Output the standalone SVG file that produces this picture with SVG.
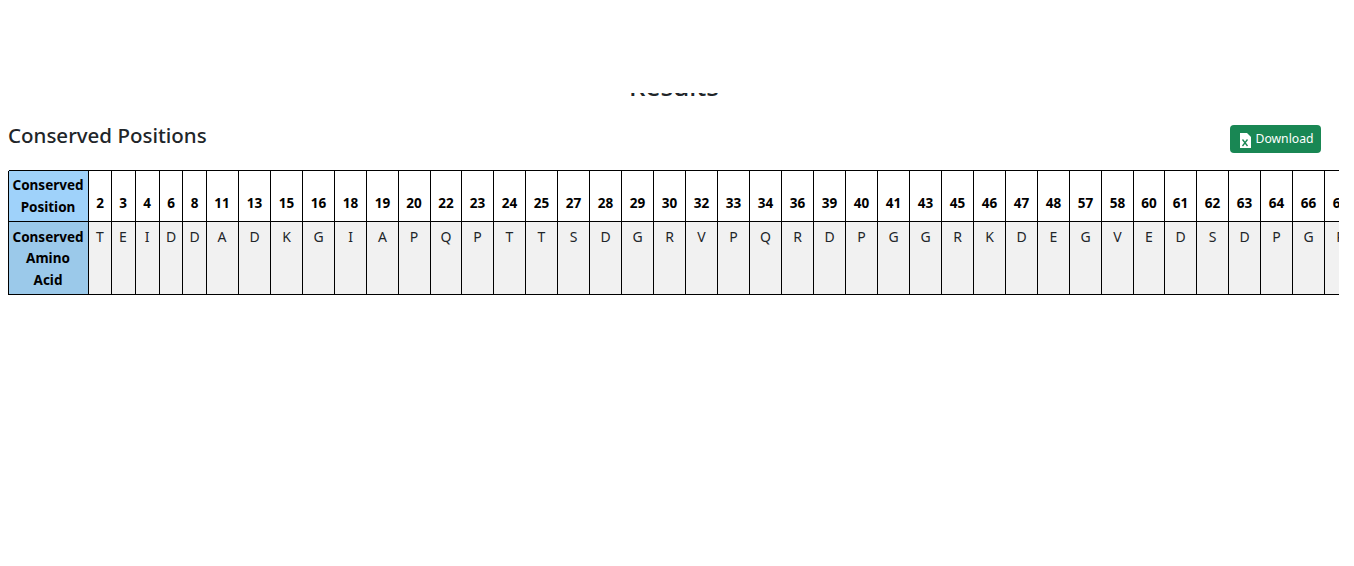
<svg xmlns="http://www.w3.org/2000/svg" width="1354" height="566" viewBox="0 0 1354 566">
<style>
text{font-family:"Noto Sans","Open Sans","Liberation Sans",sans-serif}
.h{font-size:13.5px;font-weight:700;fill:#000;text-anchor:middle}
.c{font-size:14px;fill:#212529;text-anchor:middle}
.l{stroke:#000;stroke-width:1;fill:none;shape-rendering:crispEdges}
</style>
<defs><clipPath id="tc"><rect x="0" y="160" width="1339" height="150"/></clipPath><clipPath id="rc"><rect x="0" y="93" width="1354" height="4"/></clipPath></defs>
<rect width="1354" height="566" fill="#fff"/>
<g clip-path="url(#rc)"><text x="674" y="96" font-size="26" font-weight="500" fill="#212529" text-anchor="middle">Results</text></g>
<text x="8" y="143" font-size="20.500" font-weight="500" fill="#212529">Conserved Positions</text>
<g id="download"><rect x="1230" y="125" width="91" height="28" rx="4" fill="#198754"/>
<path d="M1240 133h7l4 4v11h-11z" fill="#fff"/><path d="M1242.500 139.500l5 6.500M1247.500 139.500l-5 6.500" stroke="#198754" stroke-width="1.300" fill="none"/><text x="1284.500" y="143" font-size="12.200" fill="#fff" text-anchor="middle">Download</text></g>
<g id="table" clip-path="url(#tc)">
<rect x="8.500" y="170.500" width="80" height="51" fill="#9fd2fa"/>
<rect x="8.500" y="221.500" width="80" height="73" fill="#9bc9ea"/>
<rect x="88.500" y="221.500" width="1260" height="73" fill="#f1f1f1"/>
<path class="l" d="M8.500 170.500H1339M8.500 221.500H1339M8.500 294.500H1339M8.500 170.500V294.500M88.500 170.500V294.500M111.500 170.500V294.500M135.500 170.500V294.500M159.500 170.500V294.500M182.500 170.500V294.500M206.500 170.500V294.500M238.500 170.500V294.500M270.500 170.500V294.500M302.500 170.500V294.500M334.500 170.500V294.500M366.500 170.500V294.500M398.500 170.500V294.500M430.500 170.500V294.500M461.500 170.500V294.500M493.500 170.500V294.500M525.500 170.500V294.500M557.500 170.500V294.500M589.500 170.500V294.500M621.500 170.500V294.500M653.500 170.500V294.500M685.500 170.500V294.500M717.500 170.500V294.500M749.500 170.500V294.500M781.500 170.500V294.500M813.500 170.500V294.500M845.500 170.500V294.500M877.500 170.500V294.500M909.500 170.500V294.500M941.500 170.500V294.500M973.500 170.500V294.500M1005.500 170.500V294.500M1037.500 170.500V294.500M1069.500 170.500V294.500M1101.500 170.500V294.500M1133.500 170.500V294.500M1164.500 170.500V294.500M1196.500 170.500V294.500M1228.500 170.500V294.500M1260.500 170.500V294.500M1292.500 170.500V294.500M1324.500 170.500V294.500"/>
<text class="h" x="48" y="190">Conserved</text><text class="h" x="48" y="212">Position</text>
<text class="h" x="48" y="242">Conserved</text><text class="h" x="48" y="263">Amino</text><text class="h" x="48" y="285">Acid</text>
<text class="h" x="100" y="208">2</text><text class="h" x="123" y="208">3</text><text class="h" x="147" y="208">4</text><text class="h" x="171" y="208">6</text><text class="h" x="194.500" y="208">8</text><text class="h" x="222" y="208">11</text><text class="h" x="254.500" y="208">13</text><text class="h" x="286.500" y="208">15</text><text class="h" x="318.500" y="208">16</text><text class="h" x="350.500" y="208">18</text><text class="h" x="382.500" y="208">19</text><text class="h" x="414" y="208">20</text><text class="h" x="446" y="208">22</text><text class="h" x="477.500" y="208">23</text><text class="h" x="509.500" y="208">24</text><text class="h" x="541.500" y="208">25</text><text class="h" x="573.500" y="208">27</text><text class="h" x="605.500" y="208">28</text><text class="h" x="637.500" y="208">29</text><text class="h" x="669.500" y="208">30</text><text class="h" x="701.500" y="208">32</text><text class="h" x="733.500" y="208">33</text><text class="h" x="765.500" y="208">34</text><text class="h" x="797.500" y="208">36</text><text class="h" x="829.500" y="208">39</text><text class="h" x="861.500" y="208">40</text><text class="h" x="893.500" y="208">41</text><text class="h" x="925.500" y="208">43</text><text class="h" x="957.500" y="208">45</text><text class="h" x="989.500" y="208">46</text><text class="h" x="1021.500" y="208">47</text><text class="h" x="1053.500" y="208">48</text><text class="h" x="1085.500" y="208">57</text><text class="h" x="1117.500" y="208">58</text><text class="h" x="1149" y="208">60</text><text class="h" x="1180.500" y="208">61</text><text class="h" x="1212.500" y="208">62</text><text class="h" x="1244.500" y="208">63</text><text class="h" x="1276.500" y="208">64</text><text class="h" x="1308.500" y="208">66</text><text class="h" x="1340.500" y="208">67</text>
<text class="c" x="100" y="242">T</text><text class="c" x="123" y="242">E</text><text class="c" x="147" y="242">I</text><text class="c" x="171" y="242">D</text><text class="c" x="194.500" y="242">D</text><text class="c" x="222" y="242">A</text><text class="c" x="254.500" y="242">D</text><text class="c" x="286.500" y="242">K</text><text class="c" x="318.500" y="242">G</text><text class="c" x="350.500" y="242">I</text><text class="c" x="382.500" y="242">A</text><text class="c" x="414" y="242">P</text><text class="c" x="446" y="242">Q</text><text class="c" x="477.500" y="242">P</text><text class="c" x="509.500" y="242">T</text><text class="c" x="541.500" y="242">T</text><text class="c" x="573.500" y="242">S</text><text class="c" x="605.500" y="242">D</text><text class="c" x="637.500" y="242">G</text><text class="c" x="669.500" y="242">R</text><text class="c" x="701.500" y="242">V</text><text class="c" x="733.500" y="242">P</text><text class="c" x="765.500" y="242">Q</text><text class="c" x="797.500" y="242">R</text><text class="c" x="829.500" y="242">D</text><text class="c" x="861.500" y="242">P</text><text class="c" x="893.500" y="242">G</text><text class="c" x="925.500" y="242">G</text><text class="c" x="957.500" y="242">R</text><text class="c" x="989.500" y="242">K</text><text class="c" x="1021.500" y="242">D</text><text class="c" x="1053.500" y="242">E</text><text class="c" x="1085.500" y="242">G</text><text class="c" x="1117.500" y="242">V</text><text class="c" x="1149" y="242">E</text><text class="c" x="1180.500" y="242">D</text><text class="c" x="1212.500" y="242">S</text><text class="c" x="1244.500" y="242">D</text><text class="c" x="1276.500" y="242">P</text><text class="c" x="1308.500" y="242">G</text><text class="c" x="1340.500" y="242">R</text>
</g>
</svg>
